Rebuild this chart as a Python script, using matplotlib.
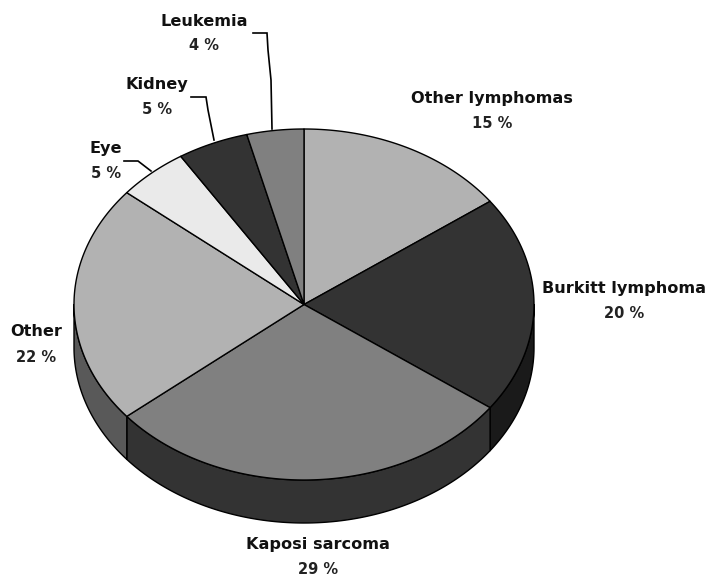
import numpy as np
import matplotlib
matplotlib.use("Agg")
import matplotlib.pyplot as plt
from matplotlib.patches import Polygon

categories = ["Other lymphomas", "Burkitt lymphoma", "Kaposi sarcoma", "Other", "Eye", "Kidney", "Leukemia"]
values = [15, 20, 29, 22, 5, 5, 4]
top_colors = ["#b2b2b2", "#333333", "#808080", "#b2b2b2", "#eaeaea", "#333333", "#808080"]
side_colors = ["#595959", "#1a1a1a", "#333333", "#595959", "#757575", "#1a1a1a", "#404040"]

CX, CY, RX, RY, DEPTH = 304, 304.5, 230, 175.5, 43
label_pos = [(492, 98), (624, 288), (318, 544), (36, 332), (106, 148), (157, 84), (204, 21)]
label_gap = 25
leaders = {
    "Leukemia": [(253, 33), (267, 33), (268, 50), (271, 80), (272, 129)],
    "Kidney": [(191, 97), (206, 97), (208, 110), (214, 140)],
    "Eye": [(124, 161), (138, 161), (151, 171)],
}

plt.rcParams["font.family"] = ["DejaVu Sans"]
fig = plt.figure(figsize=(7.05, 5.76), dpi=100)
ax = fig.add_axes([0, 0, 1, 1])
ax.set_xlim(0, 705)
ax.set_ylim(576, 0)
ax.axis("off")


def pt(theta):
    return CX + RX * np.sin(theta), CY - RY * np.cos(theta)


edges = np.radians(np.concatenate([[0], np.cumsum(values)]) * 360 / sum(values))
lo, hi = np.pi / 2, 3 * np.pi / 2

# rim of the disc, only the part facing the viewer
for a, b, col in zip(edges[:-1], edges[1:], side_colors):
    s, e = max(a, lo), min(b, hi)
    if e <= s:
        continue
    t = np.linspace(s, e, 200)
    x, y = pt(t)
    xy = np.r_[np.c_[x, y], np.c_[x[::-1], y[::-1] + DEPTH]]
    ax.add_patch(Polygon(xy, closed=True, fc=col, ec="black", lw=1.0, joinstyle="round"))

# top faces
for a, b, col in zip(edges[:-1], edges[1:], top_colors):
    t = np.linspace(a, b, 200)
    x, y = pt(t)
    xy = np.r_[[[CX, CY]], np.c_[x, y]]
    ax.add_patch(Polygon(xy, closed=True, fc=col, ec="black", lw=1.0, joinstyle="round"))

for name, pts in leaders.items():
    px, py = zip(*pts)
    ax.plot(px, py, color="black", lw=1.2, solid_joinstyle="miter")

for name, val, (x, y) in zip(categories, values, label_pos):
    ax.text(x, y, name, ha="center", va="center", fontsize=11.6, fontweight="bold", color="#111111")
    ax.text(x, y + label_gap, f"{val} %", ha="center", va="center", fontsize=10.5,
            fontweight="bold", color="#222222")

fig.savefig("out.png", dpi=100, facecolor="white")
